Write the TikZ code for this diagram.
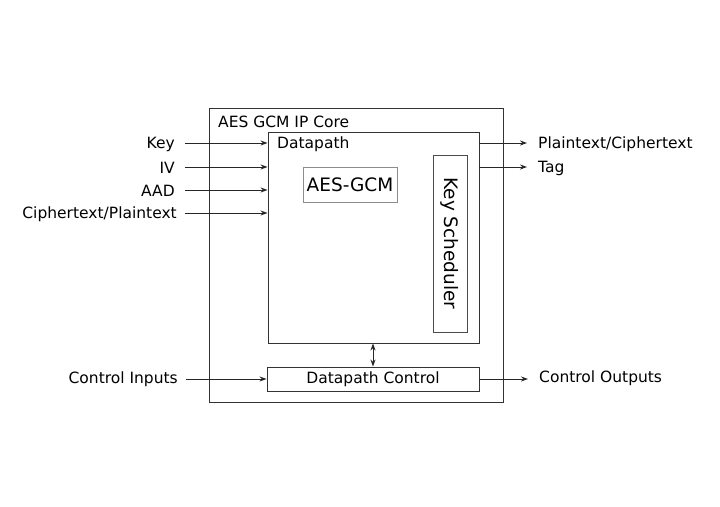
\documentclass[tikz,border=0pt]{standalone}
\usepackage{fontspec}
\setmainfont{DejaVu Sans}
\usetikzlibrary{arrows.meta}
\begin{document}
\begin{tikzpicture}[x=1pt,y=-1pt,
  box/.style={draw=black!80,line width=0.9pt,inner sep=0pt},
  lbl/.style={inner sep=0pt,font=\fontsize{15.5}{18}\selectfont,text=black},
  big/.style={font=\fontsize{18.5}{22}\selectfont,text=black},
  arr/.style={line width=0.9pt,draw=black!85,-{Stealth[length=7pt,width=5pt]}},
  darr/.style={line width=0.9pt,draw=black!85,{Stealth[length=7pt,width=5pt]}-{Stealth[length=7pt,width=5pt]}}]
\useasboundingbox (0,0) rectangle (720,506);
% boxes
\node[box,minimum width=294pt,minimum height=294pt] (core) at (356,255) {};
\node[box,minimum width=211pt,minimum height=211pt] (dp) at (373.5,237.5) {};
\node[box,draw=black!45,minimum width=94pt,minimum height=35pt,big] (aes) at (350,184.5) {AES-GCM};
\node[box,draw=black!70,minimum width=34pt,minimum height=177pt] (ks) at (450,243.5) {};
\node[big,rotate=-90] (kst) at (ks.center) {Key Scheduler};
\node[box,minimum width=212pt,minimum height=24pt,lbl] (dpc) at (373,379) {Datapath Control};
% titles
\node[lbl,anchor=west] (coret) at (218,122) {AES GCM IP Core};
\node[lbl,anchor=west] (dpt) at (277,144) {Datapath};
% input labels
\node[lbl,anchor=east] (lkey) at (175,144) {Key};
\node[lbl,anchor=east] (liv) at (175,168) {IV};
\node[lbl,anchor=east] (laad) at (175,191) {AAD};
\node[lbl,anchor=east] (lct) at (177,214) {Ciphertext/Plaintext};
\node[lbl,anchor=east] (lci) at (178,379) {Control Inputs};
\coordinate (skey) at (185,143);
\coordinate (siv) at (185,167);
\coordinate (saad) at (185,190);
\coordinate (sct) at (185,213);
\coordinate (sci) at (186,379);
\draw[arr] (skey) -- (dp.west |- skey);
\draw[arr] (siv) -- (dp.west |- siv);
\draw[arr] (saad) -- (dp.west |- saad);
\draw[arr] (sct) -- (dp.west |- sct);
\draw[arr] (sci) -- (dpc.west |- sci);
% outputs
\node[lbl,anchor=west] (lpt) at (538,144) {Plaintext/Ciphertext};
\node[lbl,anchor=west] (ltag) at (538,168) {Tag};
\node[lbl,anchor=west] (lco) at (539,378) {Control Outputs};
\coordinate (ept) at (527,143);
\coordinate (etag) at (527,167);
\coordinate (eco) at (528,379);
\draw[arr] (dp.east |- ept) -- (ept);
\draw[arr] (dp.east |- etag) -- (etag);
\draw[arr] (dpc.east |- eco) -- (eco);
% bidirectional
\draw[darr] (dp.south -| 373,0) -- (dpc.north -| 373,0);
\end{tikzpicture}
\end{document}
